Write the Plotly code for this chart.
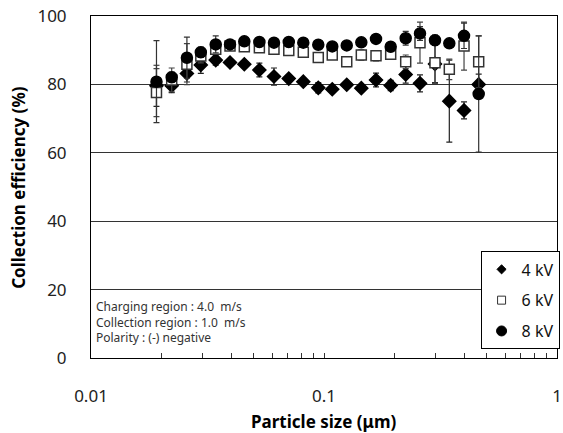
import plotly.graph_objects as go

size_um = [0.0191, 0.0222, 0.0258, 0.0296, 0.0343, 0.0395, 0.0455, 0.0528, 0.0610,
           0.0706, 0.0815, 0.0945, 0.1085, 0.1252, 0.1446, 0.1672, 0.1933, 0.2242,
           0.2582, 0.2995, 0.3450, 0.3990, 0.4612]

eff_4kv = [79.6, 79.6, 83.2, 85.7, 87.1, 86.4, 85.9, 84.2, 82.3, 81.7, 80.8, 79.0,
           78.6, 79.9, 78.9, 81.3, 79.7, 82.9, 80.3, 86.0, 75.1, 72.4, 80.0]
err_4kv = [6, 2, 2.5, 2.5, 1.5, 0.5, 0.5, 2, 2.5, 0.5, 0.5, 1.5, 0.5, 0.5, 0.5, 2,
           1.5, 2.5, 2.5, 5.5, 12, 2.5, 3]

eff_6kv = [77.6, 81.3, 85.9, 88.3, 90.3, 91.2, 91.0, 90.7, 90.3, 89.9, 89.4, 87.9,
           88.6, 86.6, 88.6, 88.4, 88.8, 86.6, 92.2, 86.3, 84.4, 91.2, 86.6]
err_6kv = [7, 3.5, 6, 2, 1.5, 1, 1, 1, 1, 1, 1, 1, 1.2, 1.2, 1.5, 1.5, 1.2, 2, 6, 6,
           3, 7, 7.6]

eff_8kv = [80.8, 82.1, 87.8, 89.4, 91.7, 91.7, 92.6, 92.4, 92.2, 92.4, 92.2, 91.6,
           91.1, 91.4, 92.3, 93.3, 91.0, 93.5, 94.9, 92.9, 92.0, 94.2, 77.2]
err_8kv = [12, 1.5, 6, 1.5, 2.5, 0.8, 0.8, 0.8, 0.8, 0.8, 0.8, 0.8, 0.8, 0.8, 0.8,
           0.8, 0.8, 2, 2, 1.5, 0.8, 3.7, 17]

series_names = ["4 kV", "6 kV", "8 kV"]
x_tickvals = [0.01, 0.1, 1]
x_ticktext = ["0.01", "0.1", "1"]
y_tickvals = [0, 20, 40, 60, 80, 100]

FONT = "Noto Sans"

fig = go.Figure()

styles = [
    # (symbol, size, fill, line color, error color, legend size)
    ("diamond", 10, "black", "black", "#222222", 7),
    ("square", 10, "white", "#333333", "#444444", 8),
    ("circle", 11, "black", "black", "#333333", 10),
]
data = [(eff_4kv, err_4kv), (eff_6kv, err_6kv), (eff_8kv, err_8kv)]

for name, (y, err), (sym, sz, fill, lc, ec, lsz) in zip(series_names, data, styles):
    fig.add_trace(go.Scatter(
        x=size_um, y=y, name=name, mode="markers", showlegend=False,
        marker=dict(symbol=sym, size=sz, color=fill, line=dict(color=lc, width=1.5)),
        error_y=dict(type="data", array=err, visible=True, color=ec,
                     thickness=1.2, width=3),
    ))

# legend entries (smaller symbols, as in the reference legend)
for name, (sym, sz, fill, lc, ec, lsz) in zip(series_names, styles):
    fig.add_trace(go.Scatter(
        x=[None], y=[None], name=name, mode="markers", legendgroup=name,
        marker=dict(symbol=sym, size=lsz, color=fill, line=dict(color=lc, width=1)),
    ))

minor_vals = [m * 10 ** e for e in (-2, -1) for m in range(2, 10)] + [0.1]

fig.update_layout(
    width=563, height=433,
    margin=dict(l=91, r=6, t=16, b=75, autoexpand=False),
    paper_bgcolor="white", plot_bgcolor="white",
    font=dict(family=FONT, color="#222222"),
    showlegend=True,
    legend=dict(x=0.836, y=0.025, xanchor="left", yanchor="bottom",
                bgcolor="white", bordercolor="black", borderwidth=1,
                font=dict(size=16, family=FONT, color="#111111"),
                itemsizing="trace", tracegroupgap=7, itemwidth=30),
    xaxis=dict(
        type="log", range=[-2, 0], automargin=False,
        tickvals=x_tickvals, ticktext=x_ticktext,
        tickfont=dict(size=17, family=FONT),
        ticks="", ticklabelstandoff=23,
        showgrid=False, zeroline=False,
        showline=True, linecolor="black", linewidth=1, mirror=True,
        minor=dict(tickvals=minor_vals, ticks="inside", ticklen=5, tickcolor="#333333",
                   showgrid=False),
    ),
    yaxis=dict(
        range=[0, 100], tickvals=y_tickvals, automargin=False,
        tickfont=dict(size=17, family=FONT),
        ticks="", ticklabelstandoff=20,
        showgrid=True, gridcolor="#333333", gridwidth=1,
        zeroline=False,
        showline=True, linecolor="black", linewidth=1, mirror=True,
    ),
)

fig.add_annotation(
    xref="paper", yref="paper", x=0.5, y=-0.185, xanchor="center", yanchor="middle",
    showarrow=False, text="<b>Particle size (μm)</b>",
    font=dict(size=17, family=FONT, color="black"),
)
fig.add_annotation(
    xref="paper", yref="paper", x=-0.157, y=0.5, xanchor="center", yanchor="middle",
    showarrow=False, text="<b>Collection efficiency (%)</b>", textangle=-90,
    font=dict(size=17, family=FONT, color="black"),
)

fig.add_annotation(
    xref="paper", yref="paper", x=0.006, y=0.03, xanchor="left", yanchor="bottom",
    align="left", showarrow=False,
    text="Charging region : 4.0  m/s<br>Collection region : 1.0  m/s<br>Polarity : (-) negative",
    font=dict(size=12, family=FONT, color="#333333"),
    bgcolor="white",
)

fig.write_html("out.html", config={"displayModeBar": False},
               post_script="document.body.style.margin='0';")
